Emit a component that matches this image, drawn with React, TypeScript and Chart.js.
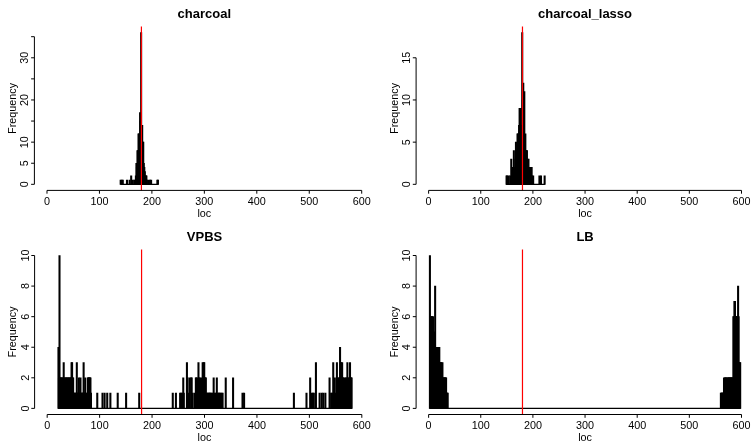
import React, { useEffect, useRef } from "react";
import { Chart, registerables } from "chart.js";

Chart.register(...registerables);

// ---------- data ----------
const X_TICKS = [0, 100, 200, 300, 400, 500, 600];
const X_LIMITS = [0, 600];
const TRUE_LOC = 180;

const CHARCOAL_LOC = [140, 142, 144, 152, 157, 160, 163, 166, 168, 169, 170, 171, 172, 173, 174, 175, 176, 177, 178, 179, 180, 181, 182, 183, 184, 185, 186, 187, 188, 189, 190, 193, 196, 198, 210, 211];
const CHARCOAL_COUNT = [1, 1, 1, 1, 1, 2, 1, 1, 1, 2, 5, 4, 8, 8, 12, 12, 9, 17, 15, 36, 14, 14, 10, 10, 5, 4, 3, 2, 2, 2, 1, 1, 1, 1, 1, 1];
const CHARCOAL_RANGE = [140, 212];
const CHARCOAL_Y_TICKS = [0, 5, 10, 15, 20, 25, 30, 35];
const CHARCOAL_Y_LABELS = ["0", "5", "10", "", "20", "", "30", ""];

const LASSO_LOC = [149, 150, 153, 156, 158, 160, 161, 163, 164, 166, 167, 168, 169, 170, 171, 172, 173, 174, 175, 176, 177, 178, 179, 180, 181, 182, 183, 184, 185, 186, 187, 188, 189, 190, 191, 192, 193, 194, 195, 196, 197, 198, 200, 212, 215, 222];
const LASSO_COUNT = [1, 1, 1, 1, 3, 1, 2, 4, 2, 3, 5, 3, 4, 6, 6, 5, 7, 9, 9, 9, 6, 7, 18, 10, 12, 8, 11, 5, 6, 4, 4, 4, 3, 1, 3, 1, 2, 2, 2, 2, 2, 1, 1, 1, 1, 1];
const LASSO_RANGE = [149, 223];
const LASSO_Y_TICKS = [0, 5, 10, 15];
const LASSO_Y_LABELS = ["0", "5", "10", "15"];

const VPBS_LOC = [
  21, 22, 23, 24, 25, 26, 27, 28, 29, 30, 31, 32, 33, 34, 35, 36, 37, 38, 39, 40, 41, 42, 43, 44, 45, 46, 47, 48, 49, 50,
  52, 53, 55, 56, 57, 58, 59, 60, 61, 62, 63, 64, 66, 67, 68, 69, 70, 71, 72, 73, 74, 77, 78, 79, 80, 81, 82, 83,
  95, 105, 109, 114, 120, 134, 150, 175,
  239, 245, 253, 255, 257, 259, 260, 266, 267, 270, 271, 274, 275, 277, 281, 283, 284, 286, 288, 289, 291, 292, 294, 296, 297, 298, 299, 300, 301, 302,
  304, 305, 307, 308, 310, 311, 313, 315, 317, 319, 321, 323, 325, 327, 328, 330, 332, 334, 340, 354, 372, 375,
  470, 494, 501, 504, 506, 508, 512, 519, 523, 526, 530, 538, 541, 543, 545, 546, 548, 550, 552, 553, 554, 556, 558, 559, 560, 562, 563, 564, 566, 567,
  569, 570, 572, 573, 575, 577, 578, 579, 580,
];
const VPBS_COUNT = [
  4, 2, 10, 2, 2, 2, 2, 1, 2, 2, 3, 2, 2, 1, 2, 2, 2, 1, 2, 2, 2, 1, 2, 2, 2, 3, 3, 2, 2, 1,
  1, 1, 1, 3, 1, 1, 1, 2, 1, 1, 2, 1, 1, 1, 1, 3, 1, 1, 2, 1, 1, 2, 2, 2, 2, 2, 2, 1,
  1, 1, 1, 1, 1, 1, 1, 1,
  1, 1, 1, 1, 1, 2, 1, 3, 2, 1, 2, 2, 2, 1, 1, 2, 2, 2, 3, 2, 2, 1, 2, 3, 2, 3, 3, 2, 2, 2,
  1, 1, 1, 1, 1, 1, 1, 1, 2, 1, 1, 2, 1, 1, 1, 1, 1, 1, 2, 2, 1, 1,
  1, 1, 2, 1, 1, 1, 3, 1, 1, 1, 1, 2, 1, 1, 3, 1, 2, 1, 3, 1, 2, 2, 4, 3, 3, 3, 2, 2, 2, 1,
  2, 2, 3, 2, 2, 3, 2, 2, 2,
];
const VPBS_RANGE = [21, 581];
const SMALL_Y_TICKS = [0, 2, 4, 6, 8, 10];
const SMALL_Y_LABELS = ["0", "2", "4", "6", "8", "10"];

const LB_LOC = [
  2, 3, 4, 5, 6, 7, 8, 9, 10, 11, 12, 13, 14, 15, 16, 17, 18, 19, 20, 21, 22, 23, 24, 25, 26, 27, 28, 29, 30, 31, 32, 33, 34, 35, 36,
  560, 561, 562, 563, 564, 565, 566, 567, 568, 569, 570, 571, 572, 573, 574, 575, 576, 577, 578, 579, 580, 581, 582, 583,
  584, 585, 586, 587, 588, 589, 590, 591, 592, 593, 594, 595, 596, 597,
];
const LB_COUNT = [
  10, 5, 6, 6, 6, 5, 6, 3, 5, 4, 8, 4, 4, 4, 4, 4, 3, 4, 4, 3, 3, 3, 3, 2, 3, 2, 2, 2, 2, 2, 2, 2, 1, 1, 1,
  1, 1, 1, 1, 1, 1, 2, 1, 2, 2, 2, 2, 1, 2, 2, 2, 2, 2, 2, 2, 2, 2, 2, 2,
  6, 6, 7, 7, 6, 6, 6, 6, 6, 8, 6, 3, 3, 3,
];
const LB_RANGE = [2, 598];

const TITLES = ["charcoal", "charcoal_lasso", "VPBS", "LB"];
const X_TITLE = "loc";
const Y_TITLE = "Frequency";

// ---------- layout (positions / styles) ----------
const PANEL_W = 377;
const PANEL_H = 221;
const FONT = '"Liberation Sans", Arial, Helvetica, sans-serif';

type Panel = {
  title: string;
  loc: number[];
  count: number[];
  range: number[];
  yTicks: number[];
  yLabels: string[];
  pos: { left: number; top: number };
  pad: { left: number; right: number; top: number; bottom: number };
};

const PANELS: Panel[] = [
  { title: TITLES[0], loc: CHARCOAL_LOC, count: CHARCOAL_COUNT, range: CHARCOAL_RANGE, yTicks: CHARCOAL_Y_TICKS, yLabels: CHARCOAL_Y_LABELS,
    pos: { left: 0, top: 0 }, pad: { left: 34.4, right: 2.7, top: 26.4, bottom: 30.6 } },
  { title: TITLES[1], loc: LASSO_LOC, count: LASSO_COUNT, range: LASSO_RANGE, yTicks: LASSO_Y_TICKS, yLabels: LASSO_Y_LABELS,
    pos: { left: 377, top: 0 }, pad: { left: 39.1, right: -1.6, top: 26.4, bottom: 30.6 } },
  { title: TITLES[2], loc: VPBS_LOC, count: VPBS_COUNT, range: VPBS_RANGE, yTicks: SMALL_Y_TICKS, yLabels: SMALL_Y_LABELS,
    pos: { left: 0, top: 221 }, pad: { left: 34.6, right: 2.6, top: 28.4, bottom: 27.5 } },
  { title: TITLES[3], loc: LB_LOC, count: LB_COUNT, range: LB_RANGE, yTicks: SMALL_Y_TICKS, yLabels: SMALL_Y_LABELS,
    pos: { left: 377, top: 221 }, pad: { left: 39.1, right: -1.6, top: 28.4, bottom: 27.5 } },
];

function HistPanel({ p }: { p: Panel }) {
  const ref = useRef<HTMLCanvasElement | null>(null);

  useEffect(() => {
    const canvas = ref.current;
    if (!canvas) return;
    const yMax = Math.max(...p.count);
    const xSpan = X_LIMITS[1] - X_LIMITS[0];
    const xMin = X_LIMITS[0] - 0.04 * xSpan;
    const xMax = X_LIMITS[1] + 0.04 * xSpan;
    const yMin = -0.04 * yMax;
    const yTop = 1.04 * yMax;

    const rAxes = {
      id: "rAxes",
      afterDraw(chart: any) {
        const { ctx, chartArea: ca, scales } = chart;
        const xs = scales.x;
        const ys = scales.y;
        ctx.save();
        ctx.strokeStyle = "#000";
        ctx.fillStyle = "#000";
        ctx.lineWidth = 1;

        // x axis
        const yAx = ca.bottom;
        ctx.beginPath();
        ctx.moveTo(xs.getPixelForValue(X_TICKS[0]), yAx);
        ctx.lineTo(xs.getPixelForValue(X_TICKS[X_TICKS.length - 1]), yAx);
        X_TICKS.forEach((t) => {
          const px = xs.getPixelForValue(t);
          ctx.moveTo(px, yAx);
          ctx.lineTo(px, yAx + 3.3);
        });
        ctx.stroke();
        ctx.font = `10.8px ${FONT}`;
        ctx.textAlign = "center";
        ctx.textBaseline = "alphabetic";
        X_TICKS.forEach((t) => {
          ctx.fillText(String(t), xs.getPixelForValue(t), yAx + 14.4);
        });
        ctx.fillText(X_TITLE, (ca.left + ca.right) / 2, yAx + 26.8);

        // y axis
        const xAx = ca.left;
        ctx.beginPath();
        ctx.moveTo(xAx, ys.getPixelForValue(p.yTicks[0]));
        ctx.lineTo(xAx, ys.getPixelForValue(p.yTicks[p.yTicks.length - 1]));
        p.yTicks.forEach((t) => {
          const py = ys.getPixelForValue(t);
          ctx.moveTo(xAx, py);
          ctx.lineTo(xAx - 3.3, py);
        });
        ctx.stroke();
        p.yTicks.forEach((t, i) => {
          const lab = p.yLabels[i];
          if (!lab) return;
          ctx.save();
          ctx.translate(xAx - 6.1, ys.getPixelForValue(t));
          ctx.rotate(-Math.PI / 2);
          ctx.fillText(lab, 0, 0);
          ctx.restore();
        });
        ctx.save();
        ctx.translate(xAx - 18.6, (ca.top + ca.bottom) / 2);
        ctx.rotate(-Math.PI / 2);
        ctx.fillText(Y_TITLE, 0, 0);
        ctx.restore();

        // main title
        ctx.font = `bold 13px ${FONT}`;
        ctx.fillText(p.title, (ca.left + ca.right) / 2, ca.top - 8.1);
        ctx.restore();
      },
    };

    const chart = new Chart(canvas, {
      type: "bar",
      data: {
        datasets: [
          {
            type: "line",
            data: [
              { x: TRUE_LOC, y: yMin - 10 },
              { x: TRUE_LOC, y: yTop + 10 },
            ],
            borderColor: "#ff0000",
            borderWidth: 1.2,
            pointRadius: 0,
            order: 0,
          } as any,
          {
            type: "line",
            data: [
              { x: p.range[0], y: 0 },
              { x: p.range[1], y: 0 },
            ],
            borderColor: "#000",
            borderWidth: 1.2,
            pointRadius: 0,
            order: 1,
          } as any,
          {
            type: "bar",
            data: p.loc.map((l, i) => ({ x: l + 0.5, y: p.count[i] })),
            backgroundColor: "#000",
            borderWidth: 0,
            barThickness: 1.4,
            order: 2,
          } as any,
        ],
      },
      options: {
        animation: false,
        responsive: false,
        maintainAspectRatio: false,
        events: [],
        layout: { padding: p.pad },
        plugins: { legend: { display: false }, tooltip: { enabled: false }, title: { display: false } },
        scales: {
          x: { type: "linear", min: xMin, max: xMax, offset: false, display: false },
          y: { type: "linear", min: yMin, max: yTop, display: false },
        },
      },
      plugins: [rAxes],
    });
    return () => chart.destroy();
  }, [p]);

  return (
    <div style={{ position: "absolute", left: p.pos.left, top: p.pos.top, width: PANEL_W, height: PANEL_H, overflow: "hidden" }}>
      <canvas ref={ref} width={PANEL_W} height={PANEL_H} style={{ width: PANEL_W, height: PANEL_H, display: "block" }} />
    </div>
  );
}

export default function App() {
  return (
    <div style={{ position: "fixed", left: 0, top: 0, width: 754, height: 442, background: "#fff", overflow: "hidden" }}>
      {PANELS.map((p) => (
        <HistPanel key={p.title} p={p} />
      ))}
    </div>
  );
}
